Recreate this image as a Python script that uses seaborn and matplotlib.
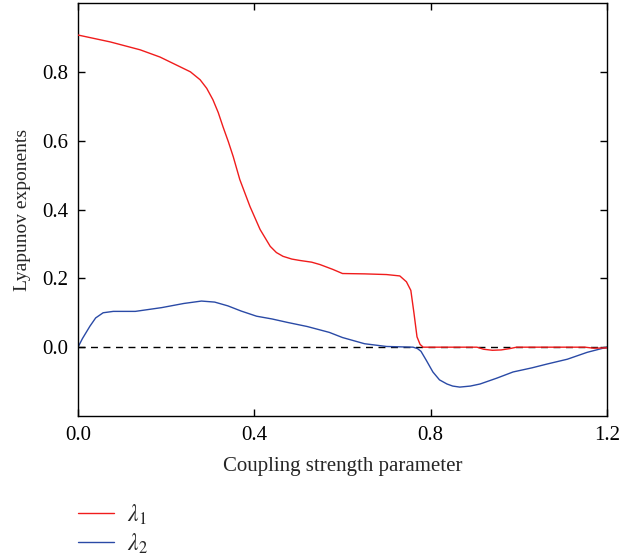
import numpy as np
import pandas as pd
import matplotlib
matplotlib.use("Agg")
import matplotlib.pyplot as plt
import seaborn as sns

# ---- data ----
lam1_x = [0.0, 0.073, 0.141, 0.186, 0.231, 0.255, 0.277, 0.292, 0.306, 0.318, 0.329,
          0.341, 0.352, 0.367, 0.39, 0.413, 0.436, 0.45, 0.465, 0.485, 0.503, 0.53,
          0.549, 0.578, 0.6, 0.65, 0.7, 0.73, 0.745, 0.755, 0.762, 0.769, 0.776,
          0.783, 0.85, 0.905, 0.92, 0.94, 0.96, 0.98, 0.995, 1.15, 1.17, 1.2]
lam1_y = [0.907, 0.887, 0.864, 0.843, 0.815, 0.800, 0.777, 0.752, 0.719, 0.682, 0.640,
          0.597, 0.554, 0.487, 0.409, 0.342, 0.293, 0.275, 0.264, 0.256, 0.252, 0.247,
          0.240, 0.226, 0.214, 0.213, 0.211, 0.207, 0.19, 0.165, 0.10, 0.03, 0.008,
          0.0, 0.0, 0.0, -0.006, -0.009, -0.008, -0.004, 0.0, 0.0, -0.003, -0.002]

lam2_x = [0.0, 0.01, 0.027, 0.04, 0.057, 0.08, 0.13, 0.19, 0.24, 0.28, 0.31, 0.34,
          0.37, 0.405, 0.44, 0.475, 0.52, 0.57, 0.6, 0.65, 0.7, 0.76, 0.77, 0.778,
          0.79, 0.805, 0.82, 0.837, 0.85, 0.866, 0.89, 0.912, 0.95, 0.987, 1.03,
          1.064, 1.11, 1.155, 1.2]
lam2_y = [0.0, 0.025, 0.061, 0.085, 0.100, 0.104, 0.104, 0.115, 0.127, 0.134, 0.131,
          0.120, 0.105, 0.090, 0.082, 0.072, 0.060, 0.043, 0.028, 0.010, 0.002, 0.0,
          -0.004, -0.012, -0.038, -0.072, -0.095, -0.107, -0.113, -0.116, -0.113,
          -0.107, -0.090, -0.072, -0.060, -0.049, -0.035, -0.015, 0.0]

series_labels = [r"$\lambda_1$", r"$\lambda_2$"]
x_ticks = [0.0, 0.4, 0.8, 1.2]
y_ticks = [0.0, 0.2, 0.4, 0.6, 0.8]
x_label = "Coupling strength parameter"
y_label = "Lyapunov exponents"

# ---- style ----
sns.set_theme(style="ticks")
plt.rcParams["font.family"] = ["Liberation Serif", "DejaVu Serif"]
plt.rcParams["mathtext.fontset"] = "stix"

fig = plt.figure(figsize=(6.38, 5.59), dpi=100)
ax = fig.add_axes([0.1223, 0.2558, 0.8291, 0.7388])

df1 = pd.DataFrame({"x": lam1_x, "y": lam1_y})
df2 = pd.DataFrame({"x": lam2_x, "y": lam2_y})

ax.axhline(0.0, color="black", lw=1.0, ls=(0, (5, 4)), zorder=1)
sns.lineplot(data=df1, x="x", y="y", ax=ax, color="#f01c1c", lw=1.0,
             label=series_labels[0], sort=False, estimator=None, zorder=3)
sns.lineplot(data=df2, x="x", y="y", ax=ax, color="#2a4aa6", lw=1.0,
             label=series_labels[1], sort=False, estimator=None, zorder=2)

ax.set_xlim(0.0, 1.2)
ax.set_ylim(-0.2, 1.0)
ax.set_xticks(x_ticks)
ax.set_xticklabels([f"{v:.1f}" for v in x_ticks])
ax.set_yticks(y_ticks)
ax.set_yticklabels([f"{v:.1f}" for v in y_ticks])
ax.tick_params(direction="in", length=5, width=1, top=True, right=True,
               labelsize=15, colors="black")
ax.tick_params(axis="x", pad=7)
ax.tick_params(axis="y", pad=7)
for s in ax.spines.values():
    s.set_linewidth(1.0)
    s.set_color("black")
ax.set_xlabel(x_label, fontsize=15, labelpad=9)
ax.set_ylabel(y_label, fontsize=14, labelpad=8)

h, l = ax.get_legend_handles_labels()
ax.get_legend().remove()
fig.legend(h, l, loc="upper left", bbox_to_anchor=(0.108, 0.118),
           frameon=False, fontsize=17, handlelength=1.5, labelspacing=0.2,
           handletextpad=0.55, borderaxespad=0)

fig.savefig("out.png", dpi=100)
